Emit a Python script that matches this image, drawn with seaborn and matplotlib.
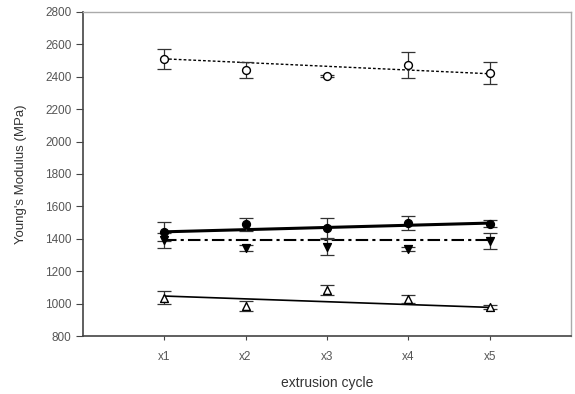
import numpy as np
import pandas as pd
import matplotlib
matplotlib.use("Agg")
import matplotlib.pyplot as plt
import seaborn as sns

# Werte
cycles = ["x1", "x2", "x3", "x4", "x5"]
cycle_pos = [1, 2, 3, 4, 5]

open_circle = [2510, 2442, 2405, 2473, 2423]
open_circle_err = [62, 50, 8, 80, 70]
open_circle_trend = [2510, 2418]

filled_circle = [1445, 1491, 1467, 1497, 1493]
filled_circle_err = [60, 40, 60, 45, 20]
filled_circle_trend = [1443, 1497]

filled_tri = [1390, 1343, 1350, 1337, 1386]
filled_tri_err = [45, 18, 50, 15, 50]
filled_tri_trend = [1390, 1390]

open_tri = [1035, 985, 1084, 1028, 979]
open_tri_err = [40, 30, 30, 25, 15]
open_tri_trend = [1047, 977]

sns.set_style("white")
plt.rcParams["font.family"] = ["Liberation Sans", "DejaVu Sans"]

fig = plt.figure(figsize=(5.75, 3.94), dpi=100)
ax = fig.add_axes([0.144, 0.147, 0.849, 0.823])

series = [
    (open_circle, open_circle_err, open_circle_trend, "o", "white", (0, (2, 1.5)), 1.0),
    (filled_circle, filled_circle_err, filled_circle_trend, "o", "black", "-", 2.2),
    (filled_tri, filled_tri_err, filled_tri_trend, "v", "black", (0, (6, 2, 1.5, 2)), 1.5),
    (open_tri, open_tri_err, open_tri_trend, "^", "white", "-", 1.2),
]

for vals, err, trend, marker, face, ls, lw in series:
    df = pd.DataFrame({"x": cycle_pos, "y": vals})
    tdf = pd.DataFrame({"x": [cycle_pos[0], cycle_pos[-1]], "y": trend})
    sns.lineplot(data=tdf, x="x", y="y", ax=ax, color="black",
                 linestyle=ls, linewidth=lw, zorder=2)
    ax.errorbar(cycle_pos, vals, yerr=err, fmt="none", ecolor="#333333",
                elinewidth=0.9, capsize=5, capthick=0.9, zorder=3)
    sns.scatterplot(data=df, x="x", y="y", ax=ax, marker=marker, s=32,
                    color=face, edgecolor="black", linewidth=1.0, zorder=4)

ax.set_xlim(0, 6.0)
ax.set_ylim(800, 2800)
ax.set_yticks(np.arange(800, 2801, 200))
ax.set_xticks(cycle_pos)
ax.set_xticklabels(cycles)

for side in ["top", "right"]:
    ax.spines[side].set_color("#aaaaaa")
    ax.spines[side].set_linewidth(1.0)
for side in ["left", "bottom"]:
    ax.spines[side].set_color("#444444")
    ax.spines[side].set_linewidth(1.2)

ax.tick_params(axis="y", direction="out", length=5, width=0.8,
               colors="#444444", labelsize=8.5, labelcolor="#555555", left=True, pad=3)
ax.tick_params(axis="x", direction="out", length=3, width=0.8,
               colors="#444444", labelsize=8.5, labelcolor="#555555", bottom=True, pad=8)
ax.set_xlabel("extrusion cycle", fontsize=10, color="#333333", labelpad=9)
ax.set_ylabel("Young's Modulus (MPa)", fontsize=9.5, color="#333333", labelpad=13)

fig.savefig("out.png", dpi=100)
